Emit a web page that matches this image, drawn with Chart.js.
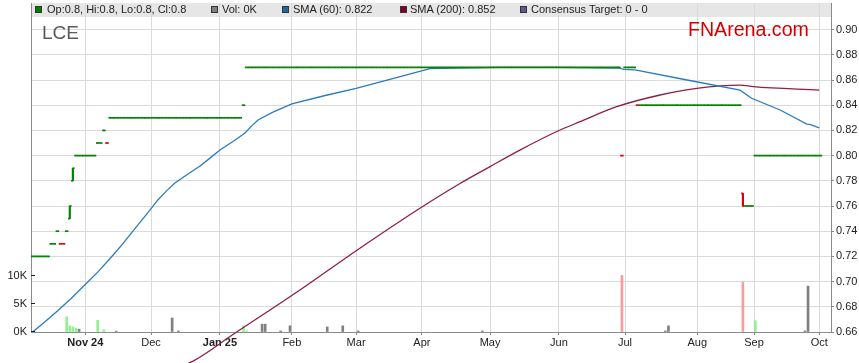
<!DOCTYPE html>
<html>
<head>
<meta charset="utf-8">
<script src="https://cdn.jsdelivr.net/npm/chart.js@4.4.1/dist/chart.umd.min.js"></script>
<style>
html,body{margin:0;padding:0;background:#fff;}
#wrap{position:relative;width:859px;height:363px;overflow:hidden;font-family:"Liberation Sans",Arial,sans-serif;}
#c{position:absolute;left:0;top:0;}
.leg{position:absolute;top:4px;font-size:11px;line-height:11px;color:#222;white-space:nowrap;}
.sq{position:absolute;top:6px;width:5px;height:5px;border:1px solid #333;}
#ticker{position:absolute;left:42px;top:22.5px;font-size:19px;line-height:19px;color:#5a5a5a;white-space:nowrap;}
#brand{position:absolute;left:688px;top:19px;font-size:19.6px;line-height:20px;color:#d00000;white-space:nowrap;}
</style>
</head>
<body>
<div id="wrap">
  <canvas id="c" width="859" height="363"></canvas>
  <div class="sq" style="left:35px;background:#008000"></div><div class="leg" id="lg1" style="left:47px"></div>
  <div class="sq" style="left:211px;background:#808080"></div><div class="leg" id="lg2" style="left:222px"></div>
  <div class="sq" style="left:282px;background:#1a6aab"></div><div class="leg" id="lg3" style="left:293px"></div>
  <div class="sq" style="left:400px;background:#800028"></div><div class="leg" id="lg4" style="left:410px"></div>
  <div class="sq" style="left:520px;background:#5c5c8c"></div><div class="leg" id="lg5" style="left:531px"></div>
  <div id="ticker">LCE</div>
  <div id="brand">FNArena.com</div>
</div>
<script>
// ---------- DATA ----------
// x axis: trading-session index (0 = first session shown)
const monthLabels   = ['Nov 24','Dec','Jan 25','Feb','Mar','Apr','May','Jun','Jul','Aug','Sep','Oct'];
const monthTickDays = [17.0, 38.2, 60.4, 83.6, 104.3, 125.5, 147.5, 169.7, 191.0, 214.3, 232.6, 253.6];
const priceTicks    = [0.66,0.68,0.70,0.72,0.74,0.76,0.78,0.80,0.82,0.84,0.86,0.88,0.90];
const volumeTicks   = [0, 5, 10];

// daily OHLC stored as runs of consecutive sessions
const runOpen   = [0.72,0.73,0.74,0.73,0.74,0.75,0.78,0.80,0.81,0.82,0.81,0.83,0.84,0.87,0.80,0.87,0.84,0.84,0.77,0.76,0.80];
const runHigh   = [0.72,0.73,0.74,0.73,0.74,0.76,0.79,0.80,0.81,0.82,0.81,0.83,0.84,0.87,0.80,0.87,0.84,0.84,0.77,0.76,0.80];
const runLow    = [0.72,0.73,0.74,0.73,0.74,0.75,0.78,0.80,0.81,0.82,0.81,0.83,0.84,0.87,0.80,0.87,0.84,0.84,0.76,0.76,0.80];
const runClose  = [0.72,0.73,0.74,0.73,0.74,0.76,0.79,0.80,0.81,0.82,0.81,0.83,0.84,0.87,0.80,0.87,0.84,0.84,0.76,0.76,0.80];
const runLength = [6,   2,   1,   2,   1,   1,   1,   7,   2,   1,   1,   43,  1,   121, 1,   4,   1,   33,  1,   3,   22];
const runDir    = [1,   1,   1,  -1,   1,   1,   1,   1,   1,   1,  -1,   1,   1,   1,  -1,   1,  -1,   1,  -1,   1,   1];

// volume (thousands of shares) on the sessions that traded
const volDays = [11, 12, 13, 14, 15, 21, 23, 27,  45, 47, 68, 69, 74, 75, 80, 83, 95, 100, 105, 145, 190, 204, 205, 229, 233, 249, 250];
const volK    = [2.7,1.1,0.9,0.7,0.5,2.1,0.4,0.15,2.5,0.2,1.1,0.2,1.4,1.4,0.2,1.1,0.9,1.1, 0.2, 0.2, 10.1,0.2, 1.1, 8.9, 2.0, 0.2, 8.2];

// moving averages, sampled along the curves
const sma60Days = [0,    4.1,   8.2,   12.5,  16.9,  21.0,  25.0,  29.0,  33.0,  36.8,  40.4,  43.2,  45.9,  50.0,  54.0,  57.2,  60.4,  64.5,  68.5,  70.8,  72.7,  77.5,  83.6,  94.0,  104.3, 115.2, 128.1, 150,  170,  189.4, 190.5, 194.2, 211.0, 228.1, 231.8, 241.0, 249.6, 250.6, 253.6];
const sma60Vals = [0.660,0.6683,0.6771,0.6868,0.6975,0.7075,0.7183,0.7297,0.7421,0.7535,0.7648,0.7720,0.7783,0.7852,0.7917,0.7980,0.8044,0.8110,0.8179,0.8240,0.8283,0.8345,0.8410,0.8475,0.8533,0.8604,0.8691,0.870,0.870,0.8695,0.8684,0.8680,0.8600,0.8519,0.8455,0.8362,0.8250,0.8248,0.822];
const sma200Days = [44.3,  51.6,  64.6,  86.2,  104.7, 125.5, 137.8, 147.5, 157.1, 169.7, 176.5, 188.3, 202.3, 214.1, 228.1, 232.4, 253.6];
const sma200Vals = [0.6298,0.6367,0.6580,0.6933,0.7251,0.7592,0.7779,0.7913,0.8044,0.8199,0.8269,0.8388,0.8481,0.8534,0.8560,0.8547,0.852];

// ---------- BUILD ----------
const days=[], opens=[], highs=[], lows=[], closes=[], dirs=[];
let s = 0;
runLength.forEach((n,k)=>{
  for(let j=0;j<n;j++){
    days.push(s); opens.push(runOpen[k]); highs.push(runHigh[k]); lows.push(runLow[k]);
    closes.push(runClose[k]); dirs.push(runDir[k]); s++;
  }
});
const UP='#008000', DOWN='#dd0000';
const dayCol = dirs.map(v=>v>0?UP:DOWN);
const rangeIdx = days.filter(i=>highs[i]>lows[i]);

const volCol = volDays.map(d=>{
  const c=closes[d], p=d>0?closes[d-1]:c;
  return c>p?'#94ee94':(c<p?'#ff9a9a':'#808080');
});

const lastI = days.length-1;
const lastVol = volDays[volDays.length-1]===lastI ? volK[volK.length-1] : 0;
document.getElementById('lg1').textContent = `Op:${opens[lastI]}, Hi:${highs[lastI]}, Lo:${lows[lastI]}, Cl:${closes[lastI]}`;
document.getElementById('lg2').textContent = `Vol: ${lastVol}K`;
document.getElementById('lg3').textContent = `SMA (60): ${sma60Vals[sma60Vals.length-1].toFixed(3)}`;
document.getElementById('lg4').textContent = `SMA (200): ${sma200Vals[sma200Vals.length-1].toFixed(3)}`;
document.getElementById('lg5').textContent = 'Consensus Target: 0 - 0';

Chart.defaults.font.family = "'Liberation Sans', Arial, sans-serif";
Chart.defaults.font.size = 11;
Chart.defaults.color = '#222';

const GRID = '#dadada', AXIS = '#8a8a8a';

const bandPlugin = {
  id:'band',
  beforeDraw(chart){
    const {ctx, chartArea:a} = chart;
    ctx.save();
    ctx.fillStyle = '#e6e6e6';
    ctx.fillRect(a.left, a.top, a.right-a.left, 14);
    ctx.restore();
  },
  afterDraw(chart){
    // short inward tick marks on the volume axis
    const {ctx} = chart, sc = chart.scales.yv;
    ctx.save();
    ctx.strokeStyle = '#222'; ctx.lineWidth = 1;
    sc.ticks.forEach(t=>{
      const y = Math.round(sc.getPixelForValue(t.value)) - 0.5;
      ctx.beginPath(); ctx.moveTo(sc.right, y); ctx.lineTo(sc.right+4, y); ctx.stroke();
    });
    ctx.restore();
  }
};

new Chart(document.getElementById('c'), {
  type:'line',
  data:{
    datasets:[
      { type:'line', label:'open', order:0, xAxisID:'x', yAxisID:'y',
        data: days.map(i=>({x:i-0.25, y:opens[i]})),
        showLine:false, pointStyle:'line', pointRadius:0.95, pointHoverRadius:0,
        pointBorderWidth:1.7, pointBorderColor:dayCol, pointBackgroundColor:dayCol },
      { type:'line', label:'close', order:0, xAxisID:'x', yAxisID:'y',
        data: days.map(i=>({x:i+0.25, y:closes[i]})),
        showLine:false, pointStyle:'line', pointRadius:0.95, pointHoverRadius:0,
        pointBorderWidth:1.7, pointBorderColor:dayCol, pointBackgroundColor:dayCol },
      { type:'bar', label:'range', order:1, xAxisID:'x', yAxisID:'y', grouped:false,
        data: rangeIdx.map(i=>({x:i, y:[lows[i], highs[i]]})),
        backgroundColor: rangeIdx.map(i=>dayCol[i]), barThickness:1.5, borderWidth:0 },
      { type:'line', label:'SMA60', order:2, xAxisID:'x', yAxisID:'y',
        data: sma60Days.map((d,i)=>({x:d, y:sma60Vals[i]})),
        borderColor:'#2b7cbc', borderWidth:1.3, pointRadius:0, tension:0 },
      { type:'line', label:'SMA200', order:3, xAxisID:'x', yAxisID:'y',
        data: sma200Days.map((d,i)=>({x:d, y:sma200Vals[i]})),
        borderColor:'#8e1f45', borderWidth:1.3, pointRadius:0, cubicInterpolationMode:'monotone',
        clip:{left:0, top:0, right:0, bottom:40} },
      { type:'bar', label:'Vol', order:4, xAxisID:'x', yAxisID:'yv', grouped:false,
        data: volDays.map((d,i)=>({x:d, y:volK[i]})),
        backgroundColor: volCol, barThickness:2, borderWidth:0 }
    ]
  },
  options:{
    responsive:false, animation:false, devicePixelRatio:1, events:[],
    layout:{padding:{top:3,left:0,right:0,bottom:0}},
    plugins:{legend:{display:false}, tooltip:{enabled:false}},
    scales:{
      x:{
        type:'linear', position:'bottom', min:-0.5, max:257.4, offset:false,
        afterBuildTicks: sc => { sc.ticks = monthTickDays.map(v=>({value:v})); },
        afterFit: sc => { sc.height = 31; sc.paddingLeft = 0; sc.paddingRight = 0; },
        grid:{color:GRID, tickLength:3, tickColor:AXIS, offset:false},
        border:{display:true, color:AXIS, width:1},
        ticks:{
          autoSkip:false, maxRotation:0, minRotation:0, padding:1, color:'#222',
          callback:(v,i)=>monthLabels[i],
          font: c => ({family:"'Liberation Sans', Arial, sans-serif", size:11,
                        weight: (monthLabels[c.index]||'').indexOf(' ')>=0 ? 'bold' : 'normal'})
        }
      },
      y:{
        type:'linear', position:'right', min:0.66, max:0.66+329/1260,
        afterBuildTicks: sc => { sc.ticks = priceTicks.map(v=>({value:v})); },
        afterFit: sc => { sc.width = 28; sc.paddingTop = 0; sc.paddingBottom = 0; },
        grid:{color:GRID, tickLength:3, tickColor:AXIS},
        border:{display:true, color:AXIS, width:1},
        ticks:{padding:2, color:'#222', callback:v=>v.toFixed(2)}
      },
      yv:{
        type:'linear', position:'left', min:0, max:329/5.6,
        afterBuildTicks: sc => { sc.ticks = volumeTicks.map(v=>({value:v})); },
        afterFit: sc => { sc.width = 31; sc.paddingTop = 0; sc.paddingBottom = 0; },
        grid:{drawOnChartArea:false, drawTicks:false},
        border:{display:true, color:AXIS, width:1},
        ticks:{padding:4, color:'#222', callback:v=>v+'K'}
      }
    }
  },
  plugins:[bandPlugin]
});
</script>
</body>
</html>
